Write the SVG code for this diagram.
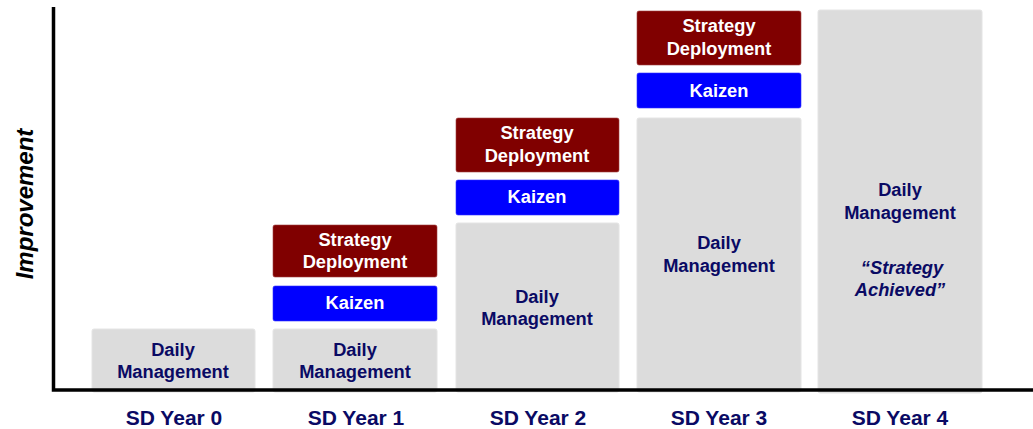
<svg xmlns="http://www.w3.org/2000/svg" width="1033" height="429" viewBox="0 0 1033 429">
<style>
.dm{fill:#dcdcdc;stroke:#e4e4e4;stroke-width:1}
.sd{fill:#800000;stroke:#a04040;stroke-width:0.6}
.kz{fill:#0000ff;stroke:#3030ff;stroke-width:0.6}
text{font-family:"Liberation Sans",Arial,sans-serif;font-weight:bold;text-anchor:middle}
.t{font-size:18.3px;fill:#0a0a64}
.w{font-size:18.3px;fill:#ffffff}
.yl{font-size:21px;fill:#0a0a64}
.it{font-style:italic}
.ax{stroke:#000;stroke-width:3.5;fill:none}
</style>
<rect width="1033" height="429" fill="#fff"/>
<g id="col0">
<rect class="dm" x="92" y="329" width="163" height="63" rx="2"/>
<text class="t" x="173" y="356">Daily</text>
<text class="t" x="173" y="378">Management</text>
</g>
<g id="col1">
<rect class="sd" x="273" y="225" width="164" height="52" rx="2"/>
<text class="w" x="355" y="246">Strategy</text>
<text class="w" x="355" y="268">Deployment</text>
<rect class="kz" x="273" y="286" width="164" height="35" rx="2"/>
<text class="w" x="355" y="309">Kaizen</text>
<rect class="dm" x="273" y="329" width="164" height="63" rx="2"/>
<text class="t" x="355" y="356">Daily</text>
<text class="t" x="355" y="378">Management</text>
</g>
<g id="col2">
<rect class="sd" x="456" y="118" width="163" height="54" rx="2"/>
<text class="w" x="537" y="139">Strategy</text>
<text class="w" x="537" y="162">Deployment</text>
<rect class="kz" x="456" y="180" width="163" height="35" rx="2"/>
<text class="w" x="537" y="203">Kaizen</text>
<rect class="dm" x="456" y="223" width="163" height="169" rx="2"/>
<text class="t" x="537" y="303">Daily</text>
<text class="t" x="537" y="325">Management</text>
</g>
<g id="col3">
<rect class="sd" x="637" y="11" width="164" height="54" rx="2"/>
<text class="w" x="719" y="32">Strategy</text>
<text class="w" x="719" y="55">Deployment</text>
<rect class="kz" x="637" y="73" width="164" height="35" rx="2"/>
<text class="w" x="719" y="97">Kaizen</text>
<rect class="dm" x="637" y="118" width="164" height="274" rx="2"/>
<text class="t" x="719" y="249">Daily</text>
<text class="t" x="719" y="272">Management</text>
</g>
<g id="col4">
<rect class="dm" x="818" y="10" width="164" height="383" rx="2"/>
<text class="t" x="900" y="196">Daily</text>
<text class="t" x="900" y="219">Management</text>
<text class="t it" x="902" y="274">“Strategy</text>
<text class="t it" x="900" y="296">Achieved”</text>
</g>
<g id="connectors">
<polyline class="ax" points="53.5,7 53.5,390 1033,390"/>
</g>
<g id="labels">
<text x="25" y="204" transform="rotate(-90 25 204)" dy="8" style="font-size:24px;font-style:italic;fill:#000">Improvement</text>
<text class="yl" x="174" y="425">SD Year 0</text>
<text class="yl" x="356" y="425">SD Year 1</text>
<text class="yl" x="538" y="425">SD Year 2</text>
<text class="yl" x="719" y="425">SD Year 3</text>
<text class="yl" x="900" y="425">SD Year 4</text>
</g>
</svg>
